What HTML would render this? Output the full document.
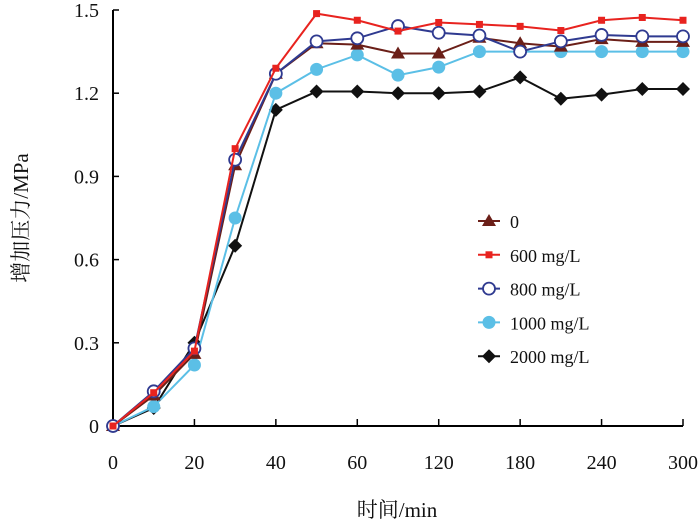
<!DOCTYPE html>
<html><head><meta charset="utf-8"><style>
body{margin:0;background:#fff}
text{font-family:"Liberation Serif","Noto Serif CJK SC",serif;fill:#111}
</style></head><body>
<svg id="c" width="700" height="525" xmlns="http://www.w3.org/2000/svg"></svg>
<script>
const categories=[0,10,20,30,40,50,60,90,120,150,180,210,240,270,300];
const xTickLabels=["0","20","40","60","120","180","240","300"];
const yTicks=[0,0.3,0.6,0.9,1.2,1.5];
const s0=[0,0.11,0.26,0.94,1.27,1.38,1.375,1.343,1.343,1.40,1.38,1.368,1.395,1.385,1.385];
const s600=[0,0.12,0.27,1.0,1.29,1.487,1.463,1.424,1.455,1.448,1.441,1.426,1.463,1.473,1.463];
const s800=[0,0.125,0.28,0.96,1.27,1.387,1.398,1.442,1.418,1.408,1.35,1.387,1.41,1.405,1.405];
const s1000=[0,0.07,0.22,0.75,1.2,1.286,1.338,1.265,1.294,1.35,1.35,1.35,1.35,1.35,1.35];
const s2000=[0,0.065,0.30,0.65,1.14,1.206,1.206,1.2,1.2,1.206,1.257,1.18,1.195,1.215,1.215];
const names=["0","600 mg/L","800 mg/L","1000 mg/L","2000 mg/L"];
const svg=document.getElementById('c');const NS="http://www.w3.org/2000/svg";
const X0=113,X1=683,Y0=426,Y1=10;
const xs=i=>X0+(X1-X0)*i/(categories.length-1);
const ys=v=>Y0-(Y0-Y1)*v/1.5;
function el(t,a,p){const e=document.createElementNS(NS,t);for(const k in a)e.setAttribute(k,a[k]);(p||svg).appendChild(e);return e;}
let a=el('path',{d:`M${X0} ${Y1}V${Y0}H${X1}`,stroke:'#000','stroke-width':2,fill:'none'});


yTicks.forEach(v=>{const y=ys(v);
 const t=el('line',{x1:X0,x2:X0+6,y1:y,y2:y,stroke:'#000','stroke-width':1.5});
 
 
 const l=el('text',{x:99,y:y+7,'text-anchor':'end','font-size':20});l.textContent=v===0?'0':v.toFixed(1);
 
 });
xTickLabels.forEach((lab,j)=>{const x=xs(j*2);
 const t=el('line',{x1:x,x2:x,y1:Y0,y2:Y0-7,stroke:'#000','stroke-width':1.5});
 
 
 const l=el('text',{x:x,y:469,'text-anchor':'middle','font-size':20});l.textContent=lab;
 
 });
const xt=el('text',{x:397,y:517,'text-anchor':'middle','font-size':21});xt.textContent='时间/min';


const yt=el('text',{x:0,y:0,'text-anchor':'middle','font-size':21,transform:'translate(28,218) rotate(-90)'});yt.textContent='增加压力/MPa';


function marker(type,x,y,g){
 if(type===0)return el('polygon',{points:`${x},${y-7} ${x-7},${y+5} ${x+7},${y+5}`,fill:'#6b1f18'},g);
 if(type===1)return el('rect',{x:x-3.5,y:y-3.5,width:7,height:7,fill:'#e8231f'},g);
 if(type===2)return el('circle',{cx:x,cy:y,r:6,fill:'#fff',stroke:'#2f3a90','stroke-width':1.8},g);
 if(type===3)return el('circle',{cx:x,cy:y,r:6.5,fill:'#5bbfe6'},g);
 return el('polygon',{points:`${x},${y-7} ${x+7},${y} ${x},${y+7} ${x-7},${y}`,fill:'#111'},g);}
const series=[s0,s600,s800,s1000,s2000];
const colors=['#6b1f18','#e8231f','#2f3a90','#5bbfe6','#111'];
const order=[4,3,0,2,1];
order.forEach(k=>{const g=el('g',{});
 
 
 el('polyline',{points:series[k].map((v,i)=>xs(i)+','+ys(v)).join(' '),fill:'none',stroke:colors[k],'stroke-width':2},g);
 series[k].forEach((v,i)=>{const m=marker(k,xs(i),ys(v),g);
  
  });});
names.forEach((n,k)=>{const y=221+k*33.8;const g=el('g',{});
 
 
 el('line',{x1:478,x2:500,y1:y,y2:y,stroke:colors[k],'stroke-width':2},g);marker(k,489,y,g);
 const t=el('text',{x:510,y:y+7,'font-size':18},g);t.textContent=n;});
</script>
</body></html>
